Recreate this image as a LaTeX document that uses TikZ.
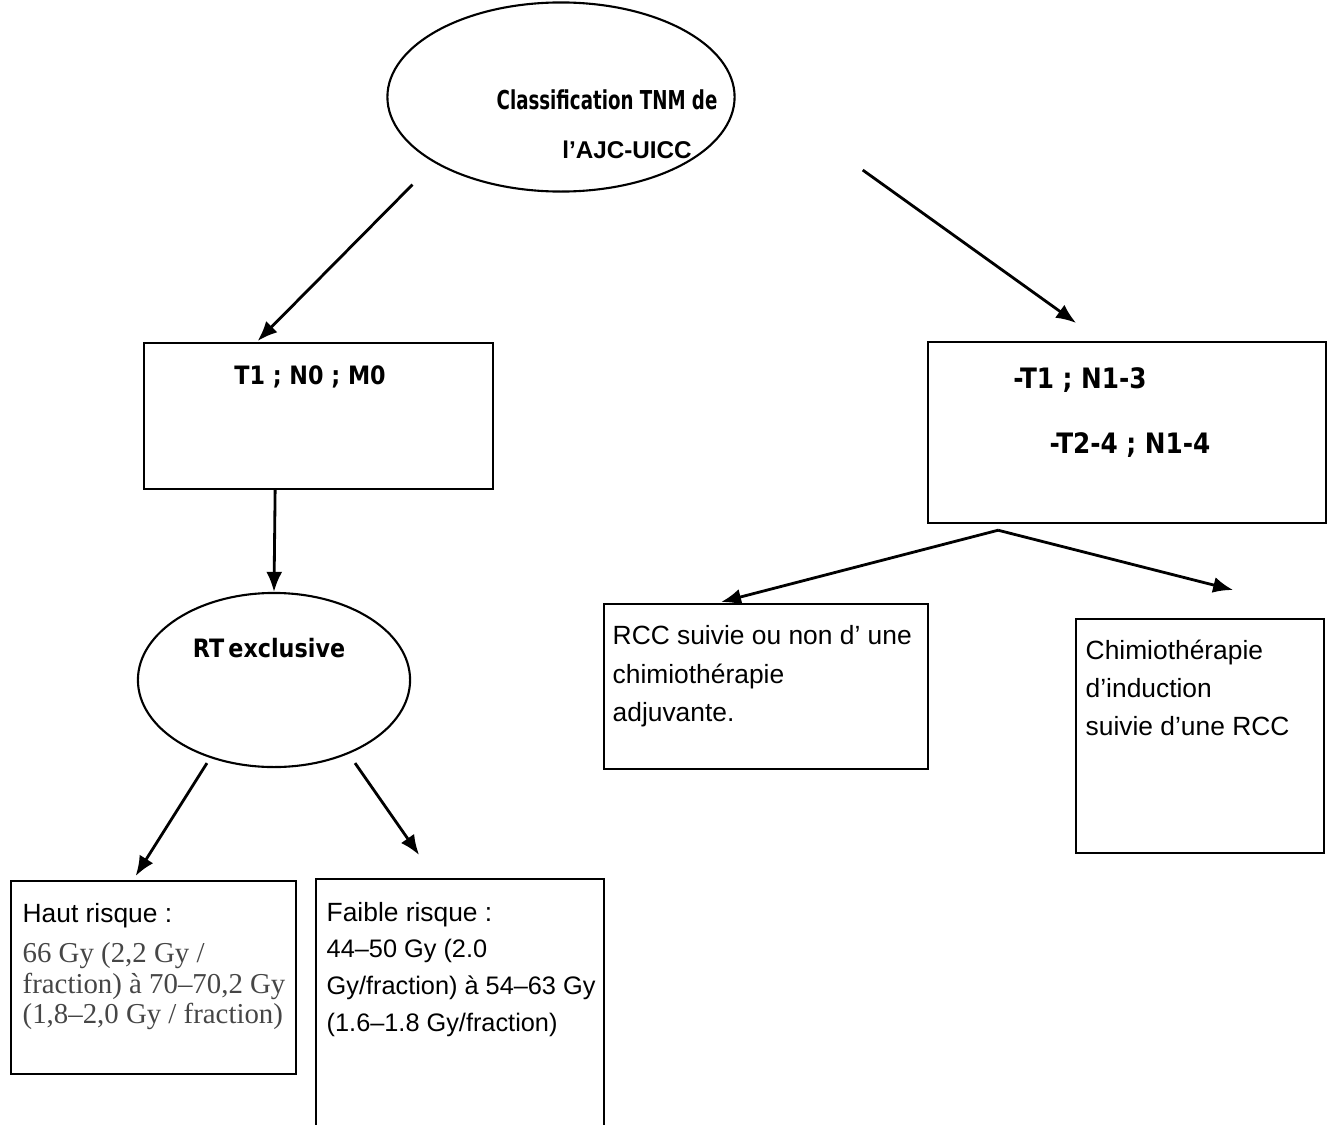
\documentclass[tikz,border=0pt]{standalone}
\usepackage{fontspec}
\setmainfont{Liberation Sans}
\newfontfamily\tahoma[FakeStretch=0.88]{DejaVu Sans}
\newfontfamily\tahomaetroit[FakeStretch=0.7]{DejaVu Sans}
\newfontfamily\timesrm{Liberation Serif}
\usepackage{xcolor}
\usetikzlibrary{arrows.meta,positioning,shapes.geometric}
\definecolor{grisdose}{RGB}{70,70,70}

\begin{document}
\begin{tikzpicture}[x=0.01cm,y=-0.01cm,>={Latex[length=0.2cm,width=0.16cm]},
  every node/.style={inner sep=0pt},
  bulle/.style={draw,ellipse,line width=0.6pt},
  cadre/.style={draw,rectangle,line width=0.6pt,anchor=north west},
  titre/.style={font=\tahoma\bfseries\fontsize{7.2}{9}\selectfont},
  corps/.style={font=\fontsize{7.5}{10.9}\selectfont,align=left,anchor=north west},
  dose/.style={font=\timesrm\fontsize{8.2}{8.7}\selectfont,text=grisdose,align=left,anchor=north west},
  fleche/.style={->,line width=0.8pt}]
\useasboundingbox (0,0) rectangle (1327,1124);
% classification
\node[bulle,minimum width=3.47cm,minimum height=1.89cm] (classif) at (561,97) {};
\node[font=\tahomaetroit\bfseries\fontsize{7.4}{9}\selectfont] (classifA) at (607,100) {Classification TNM de};
\node[font=\bfseries\fontsize{6.9}{9}\selectfont] (classifB) at (627,150) {l’AJC-UICC};
% branche gauche
\node[cadre,minimum width=3.49cm,minimum height=1.46cm] (stadeA) at (143,342) {};
\node[titre] (stadeAtxt) at (310,377) {T1 ; N0 ; M0};
\node[bulle,minimum width=2.72cm,minimum height=1.74cm] (rt) at (274,680) {};
\node[titre] (rttxt) at (269,648) {RT\,exclusive};
\node[cadre,minimum width=2.85cm,minimum height=1.93cm] (haut) at (10,880) {};
\node[corps,anchor=west] (hautrisque) at (22,916) {Haut risque :};
\node[dose] (hautdose) at (22,942) {66 Gy (2,2 Gy /\\fraction) à 70–70,2 Gy\\(1,8–2,0 Gy / fraction)};
\node[cadre,minimum width=2.88cm,minimum height=2.6cm] (faible) at (315,878) {};
\node[corps,anchor=west] (faiblerisque) at (326,915) {Faible risque :};
\node[corps,font=\fontsize{7.2}{10.6}\selectfont] (faibledose) at (326,938) {44–50 Gy (2.0\\Gy/fraction) à 54–63 Gy\\(1.6–1.8 Gy/fraction)};
% branche droite
\node[cadre,minimum width=3.98cm,minimum height=1.81cm] (stadeB) at (927,341) {};
\node[titre,font=\tahoma\bfseries\fontsize{8}{9}\selectfont] (stadeBun) at (1080,380) {-T1 ; N1-3};
\node[titre,font=\tahoma\bfseries\fontsize{8}{9}\selectfont] (stadeBdeux) at (1130,445) {-T2-4 ; N1-4};
\coordinate (fourche) at ([xshift=-1.29cm,yshift=-0.06cm]stadeB.south);
\node[cadre,minimum width=3.24cm,minimum height=1.65cm] (rcc) at (603,603) {};
\node[corps] (rcctxt) at (612,625) {RCC suivie ou non d’ une\\chimiothérapie\\adjuvante.};
\node[cadre,minimum width=2.48cm,minimum height=2.34cm] (chimio) at (1075,618) {};
\node[corps] (chimiotxt) at (1085,639) {Chimiothérapie\\d’induction\\suivie d’une RCC};
% fleches
\draw[fleche] ([xshift=-0.25cm,yshift=-0.2cm]classif.south west) -- ([xshift=-0.61cm,yshift=0.01cm]stadeA.north);
\draw[fleche] ([xshift=1.27cm,yshift=-0.73cm]classif.east) -- ([xshift=-0.51cm,yshift=0.18cm]stadeB.north);
\draw[fleche] ([xshift=-0.435cm]stadeA.south) -- (rt.north);
\draw[fleche] ([xshift=-0.67cm,yshift=0.05cm]rt.south) -- ([xshift=-0.18cm,yshift=0.04cm]haut.north);
\draw[fleche] ([xshift=0.81cm,yshift=0.05cm]rt.south) -- ([xshift=-0.41cm,yshift=0.23cm]faible.north);
\draw[fleche] (fourche) -- ([xshift=-0.45cm,yshift=0.01cm]rcc.north);
\draw[fleche] (fourche) -- ([xshift=0.33cm,yshift=0.28cm]chimio.north);
\end{tikzpicture}
\end{document}
